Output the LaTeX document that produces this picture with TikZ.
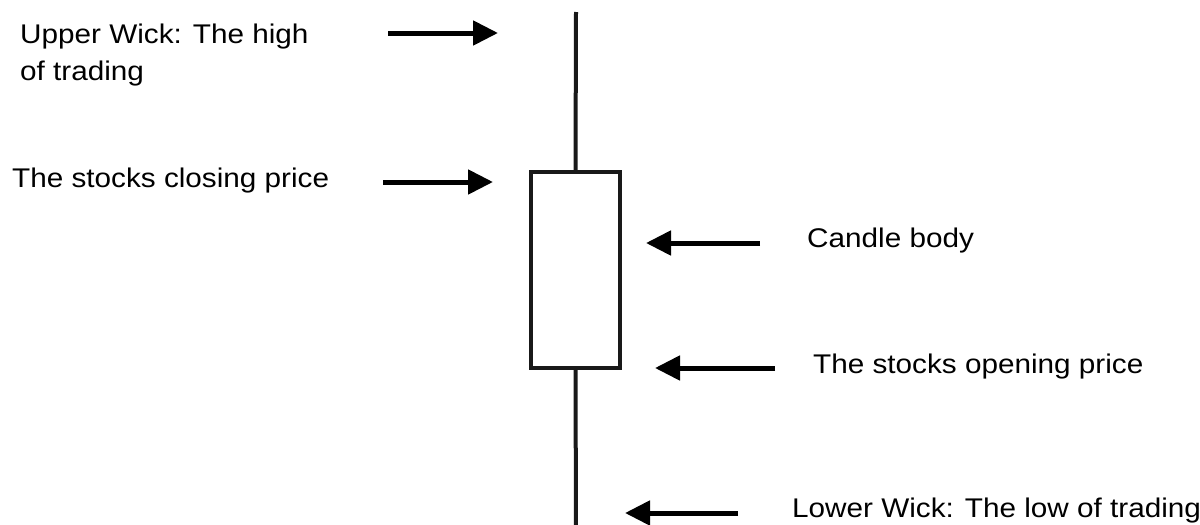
\documentclass[tikz,border=0pt]{standalone}
\usepackage{fontspec}
\setmainfont{Liberation Sans}[FakeStretch=1.1]
\usetikzlibrary{arrows.meta}
\begin{document}
\begin{tikzpicture}[x=1pt,y=-1pt,
  lbl/.style={inner sep=0pt,anchor=base west,font=\fontsize{27}{37}\selectfont,text=black},
  pointer/.style={line width=5pt,-{Triangle[length=25pt,width=24pt]}},
  wick/.style={line width=4pt,black!90},
  candlebody/.style={line width=3.5pt,draw=black!90,fill=white}]
\useasboundingbox (0,0) rectangle (1200,525);
% candle
\coordinate (wtop) at (576,12);
\coordinate (wbot) at (576,530);
\node[candlebody,minimum width=89pt,minimum height=196pt,inner sep=0pt] (body) at (575.5,270) {};
\draw[wick] (wtop) -- (body.north);
\draw[wick] (body.south) -- (wbot);
% labels
\node[lbl,align=left] (upper) at (20,80) {Upper Wick: The high\\of trading};
\node[lbl] (close) at (12,187) {The stocks closing price};
\node[lbl] (cbody) at (807,247) {Candle body};
\node[lbl] (open) at (813,373) {The stocks opening price};
\node[lbl] (lower) at (792,517) {Lower Wick: The low of trading};
% arrow coordinates
\coordinate (a1s) at (388,33);  \coordinate (a1e) at (498,33);
\coordinate (a2s) at (383,182); \coordinate (a2e) at (493,182);
\coordinate (a3s) at (760,243); \coordinate (a3e) at (646,243);
\coordinate (a4s) at (775,368); \coordinate (a4e) at (655,368);
\coordinate (a5s) at (738,513); \coordinate (a5e) at (625,513);
\draw[pointer] (a1s) -- (a1e);
\draw[pointer] (a2s) -- (a2e);
\draw[pointer] (a3s) -- (a3e);
\draw[pointer] (a4s) -- (a4e);
\draw[pointer] (a5s) -- (a5e);
\end{tikzpicture}
\end{document}
